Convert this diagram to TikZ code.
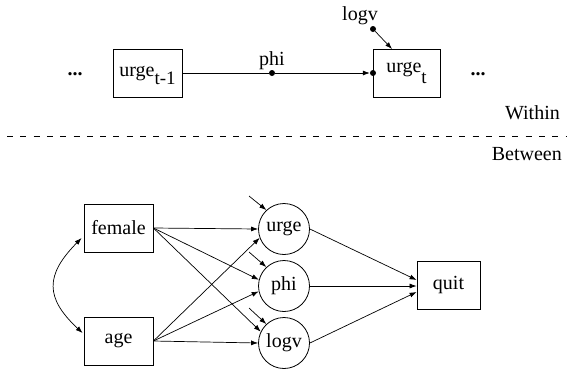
\documentclass[tikz,border=0pt]{standalone}
\usepackage{fontspec}
\setmainfont{Liberation Serif}
\usetikzlibrary{arrows.meta,calc}
\begin{document}
\begin{tikzpicture}[x=1pt,y=-1pt,
  every node/.style={font=\fontsize{20}{24}\selectfont},
  boxnode/.style={draw,line width=0.8pt,rectangle,inner sep=0pt,minimum width=#1,minimum height=48pt},
  circnode/.style={draw,line width=0.8pt,circle,inner sep=0pt,minimum size=51pt},
  txt/.style={inner sep=0pt,anchor=base},
  arr/.style={line width=0.7pt,-{Latex[length=7pt,width=5pt]}},
  dotnode/.style={circle,fill,inner sep=0pt,minimum size=6pt}]
\useasboundingbox (0,0) rectangle (570,368);

% ---- Within ----
\node[boxnode=69pt] (um1) at (147.5,73) {};
\node[txt] (um1t) at (147.5,76) {urge\raisebox{-8pt}{\fontsize{19}{22}\selectfont t-1}};
\node[boxnode=67pt] (ut) at (406.5,73) {};
\node[txt] (utt) at (406.5,72) {urge\raisebox{-11pt}{\fontsize{19}{22}\selectfont t}};
\node[dotnode] (phidot) at (272,73) {};
\node[txt] (philab) at (272,65) {phi};
\node[dotnode] (utdot) at (373,73) {};
\node[dotnode] (logvdot) at (373,29) {};
\node[txt] (logvlab) at (360,20) {logv};
\node[txt] (ldots) at (75,75) {\textbf{...}};
\node[txt] (rdots) at (478,75) {\textbf{...}};
\coordinate (uttop) at (392,49);
\draw[line width=0.7pt] (um1.east) -- (phidot);
\draw[arr] (phidot) -- (utdot.west);
\draw[arr] (logvdot) -- (uttop);

\node[txt,anchor=base east] (within) at (560,119) {Within};
\coordinate (dl) at (7,136);
\coordinate (dr) at (566,136);
\draw[line width=0.7pt,dash pattern=on 6pt off 7.3pt] (dl) -- (dr);
\node[txt,anchor=base east] (between) at (562,160) {Between};

% ---- Between ----
\node[boxnode=69pt] (female) at (118.5,228) {female};
\node[boxnode=69pt] (age) at (118.5,341) {age};
\node[circnode] (urge) at (284,229) {urge};
\node[circnode] (phi) at (284,286) {phi};
\node[circnode] (logv) at (284,343) {logv};
\node[boxnode=63pt] (quit) at (448.5,285) {quit};

\draw[arr] (female.east) -- (urge.180);
\draw[arr] (female.east) -- (phi.166);
\draw[arr] (female.east) -- (logv.154);
\draw[arr] (age.east) -- (urge.200);
\draw[arr] (age.east) -- (phi.192);
\draw[arr] (age.east) -- (logv.180);

\draw[arr] (urge.east) -- ($(quit.west)+(0,-5)$);
\draw[arr] (phi.east) -- ($(quit.west)+(0,1)$);
\draw[arr] (logv.east) -- ($(quit.west)+(0,7)$);

\coordinate (eu) at (249,196);
\coordinate (ep) at (249,252);
\coordinate (el) at (249,308);
\draw[arr] (eu) -- (urge.133);
\draw[arr] (ep) -- (phi.133);
\draw[arr] (el) -- (logv.133);

\coordinate (fa) at ($(female.west)+(-2,10)$);
\coordinate (ag) at ($(age.west)+(-1,-8)$);
\draw[line width=0.7pt,{Latex[length=7pt,width=5pt]}-{Latex[length=7pt,width=5pt]}] (fa) .. controls (45,275) and (45,298) .. (ag);
\end{tikzpicture}
\end{document}
